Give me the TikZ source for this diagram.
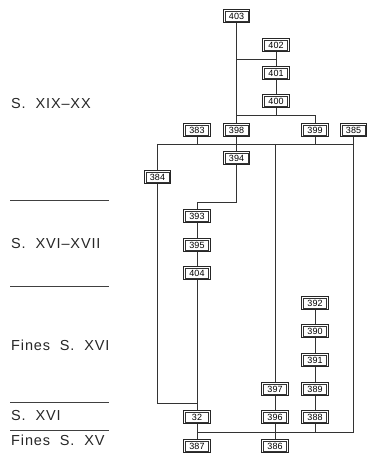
\documentclass[tikz,border=0pt]{standalone}
\usepackage{fontspec}
\setmainfont{Liberation Sans}
\newfontfamily\erafont[LetterSpace=6]{Liberation Sans}
\pgfdeclarelayer{bg}
\pgfsetlayers{bg,main}
\begin{document}
\begin{tikzpicture}[x=1pt,y=-1pt,
  box/.style={draw=black!85, line width=0.7pt, fill=white,
    minimum width=26.5pt, minimum height=13.5pt, inner sep=0pt, font=\fontsize{9}{9}\selectfont,
    path picture={\draw[black!80, line width=0.45pt]
      ([shift={(1.7pt,-1.7pt)}]path picture bounding box.north west) rectangle
      ([shift={(-1.7pt,1.7pt)}]path picture bounding box.south east);}},
  wire/.style={draw=black!80, line width=0.8pt},
  sep/.style={draw=black!75, line width=0.9pt},
  era/.style={anchor=base west, inner sep=0pt, font=\erafont\fontsize{14.5}{15}\selectfont\color{black!85}}]
\useasboundingbox (0,0) rectangle (367,454);
% coordinates
\coordinate (ja) at (236.5,59);
\coordinate (jb) at (236.5,115);
\coordinate (hl) at (157,144);
\coordinate (hr) at (353.5,144);
\coordinate (lb) at (157,403);
\coordinate (bl) at (197,432);
\coordinate (br) at (353.5,432);
\coordinate (kb) at (236.5,202);
\coordinate (mid) at (275,144);
% nodes
\path
  (236.5,16) node[box] (n403) {403}
  (276,45) node[box] (n402) {402}
  (276,73) node[box] (n401) {401}
  (276,101) node[box] (n400) {400}
  (197,130) node[box] (n383) {383}
  (236.5,130) node[box] (n398) {398}
  (315,130) node[box] (n399) {399}
  (353.5,130) node[box] (n385) {385}
  (236.5,158) node[box] (n394) {394}
  (157.5,177) node[box] (n384) {384}
  (197,216) node[box] (n393) {393}
  (197,245) node[box] (n395) {395}
  (197,273) node[box] (n404) {404}
  (315,303) node[box] (n392) {392}
  (315,331) node[box] (n390) {390}
  (315,360) node[box] (n391) {391}
  (315,389) node[box] (n389) {389}
  (275,389) node[box] (n397) {397}
  (275,417) node[box] (n396) {396}
  (315,417) node[box] (n388) {388}
  (197,417) node[box] (n32) {32}
  (197,446) node[box] (n387) {387}
  (275,446) node[box] (n386) {386};
% connectors
\begin{pgfonlayer}{bg}
\draw[wire] (n403) -- (n398);
\draw[wire] (ja) -- (ja -| n402);
\draw[wire] (n402) -- (n401);
\draw[wire] (n401) -- (n400);
\draw[wire] (n400) -- (n400 |- jb);
\draw[wire] (jb) -- (jb -| n399) -- (n399);
\draw[wire] (hl) -- (hr);
\draw[wire] (n383) -- (n383 |- hl);
\draw[wire] (n399) -- (n399 |- hl);
\draw[wire] (n385) -- (br);
\draw[wire] (n398) -- (n394);
\draw[wire] (hl) -- (lb) -- (lb -| n32);
\draw[wire] (mid) -- (n397);
\draw[wire] (n394) -- (kb) -- (kb -| n393) -- (n393);
\draw[wire] (n393) -- (n395);
\draw[wire] (n395) -- (n404);
\draw[wire] (n404) -- (n32);
\draw[wire] (n32) -- (n387);
\draw[wire] (n397) -- (n396);
\draw[wire] (n396) -- (n386);
\draw[wire] (n392) -- (n390);
\draw[wire] (n390) -- (n391);
\draw[wire] (n391) -- (n389);
\draw[wire] (n389) -- (n388);
\draw[wire] (n388) -- (n388 |- bl);
\draw[wire] (bl) -- (br);
\end{pgfonlayer}
% era labels
\node[era] (e1) at (11,109) {S.\ \ XIX–XX};
\node[era] (e2) at (11,248) {S.\ \ XVI–XVII};
\node[era] (e3) at (11,350) {Fines\ \ S.\ \ XVI};
\node[era] (e4) at (11,420) {S.\ \ XVI};
\node[era] (e5) at (11,445) {Fines\ \ S.\ \ XV};
\draw[sep] (10,200) -- (109,200);
\draw[sep] (10,286) -- (109,286);
\draw[sep] (10,402) -- (109,402);
\draw[sep] (10,430) -- (109,430);
\end{tikzpicture}
\end{document}
